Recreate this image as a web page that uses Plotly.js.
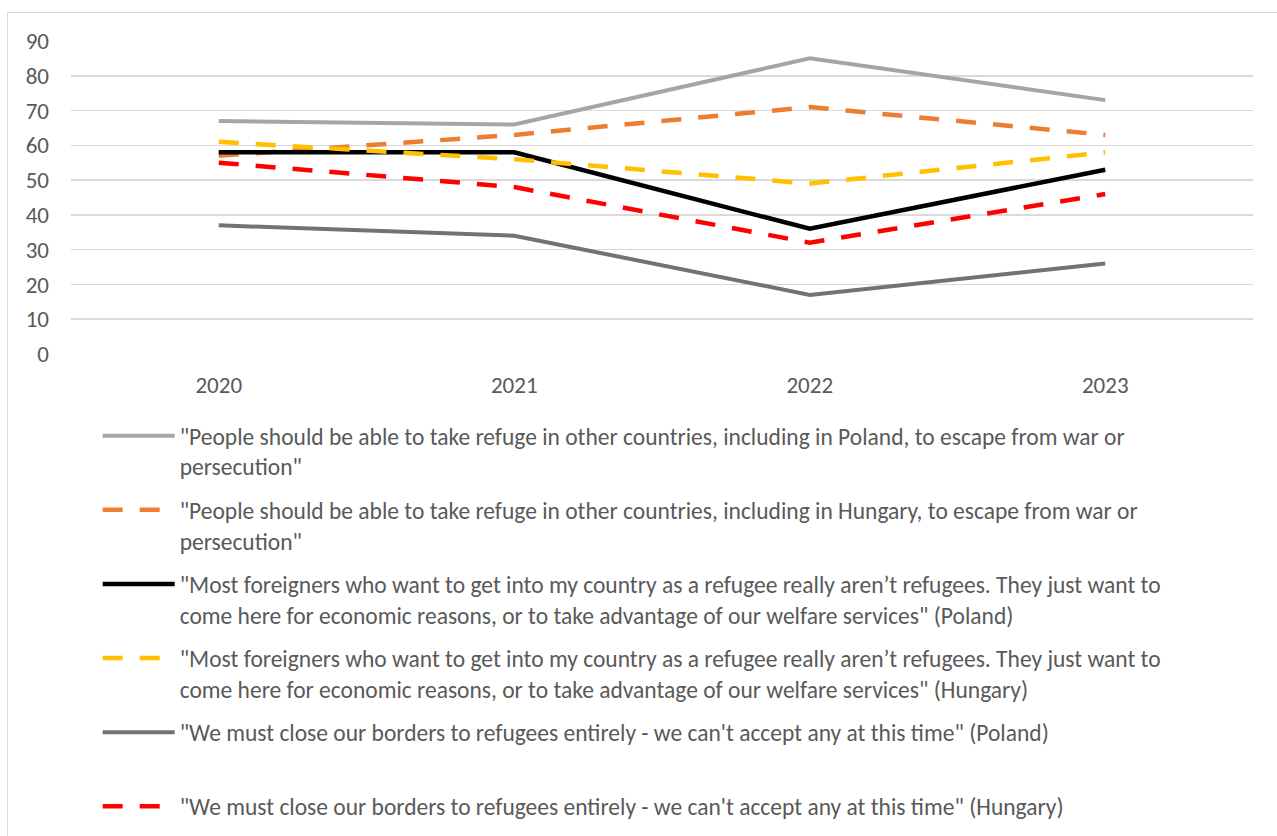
<!DOCTYPE html>
<html>
<head>
<meta charset="utf-8">
<script src="https://cdn.plot.ly/plotly-3.0.1.min.js"></script>
<style>
  html, body { margin: 0; padding: 0; background: #fff; }
  #chart { width: 1277px; height: 836px; }
  #frame { position: absolute; left: 7px; top: 12px; width: 1300px; height: 900px;
           border: 1px solid #d9d9d9; pointer-events: none; box-sizing: border-box; }
</style>
</head>
<body>
<div id="chart"></div>
<div id="frame"></div>
<script>
const years = ['2020', '2021', '2022', '2023'];

const refugePoland = [67, 66, 85, 73];
const refugeHungary = [57, 63, 71, 63];
const economicPoland = [58, 58, 36, 53];
const economicHungary = [61, 56, 49, 58];
const closePoland = [37, 34, 17, 26];
const closeHungary = [55, 48, 32, 46];

const seriesNames = [
  '"People should be able to take refuge in other countries, including in Poland, to escape from war or<br>persecution"',
  '"People should be able to take refuge in other countries, including in Hungary, to escape from war or<br>persecution"',
  '"Most foreigners who want to get into my country as a refugee really aren’t refugees. They just want to<br>come here for economic reasons, or to take advantage of our welfare services" (Poland)',
  '"Most foreigners who want to get into my country as a refugee really aren’t refugees. They just want to<br>come here for economic reasons, or to take advantage of our welfare services" (Hungary)',
  '"We must close our borders to refugees entirely - we can\'t accept any at this time" (Poland)<br> ',
  '"We must close our borders to refugees entirely - we can\'t accept any at this time" (Hungary)'
];

const yTicks = [0, 10, 20, 30, 40, 50, 60, 70, 80, 90];

const seriesValues = [refugePoland, refugeHungary, economicPoland, economicHungary, closePoland, closeHungary];
const seriesColors = ['#A5A5A5', '#ED7D31', '#000000', '#FFC000', '#767171', '#FF0000'];
const seriesDash = ['solid', '20px,17px', 'solid', '20px,17px', 'solid', '20px,17px'];
const seriesWidth = [4, 4.5, 4.5, 4.5, 4, 4.5];

const traces = seriesValues.map((vals, i) => ({
  type: 'scatter',
  mode: 'lines',
  x: years,
  y: vals,
  name: seriesNames[i],
  legendgroup: 'g' + i,
  line: { color: seriesColors[i], width: seriesWidth[i], dash: seriesDash[i] },
  hoverinfo: 'skip'
}));

const font = "Carlito, Calibri, 'Liberation Sans', Arial, sans-serif";

const layout = {
  width: 1277,
  height: 836,
  margin: { l: 70.5, r: 24, t: 40.7, b: 481.7, pad: 0, autoexpand: false },
  paper_bgcolor: '#ffffff',
  plot_bgcolor: '#ffffff',
  font: { family: font, size: 23, color: '#595959' },
  showlegend: true,
  hovermode: false,
  xaxis: {
    type: 'category',
    range: [-0.5, 3.5],
    showgrid: false,
    zeroline: false,
    showline: false,
    ticks: '',
    tickfont: { family: font, size: 23, color: '#595959' },
    ticklabelstandoff: 15,
    automargin: false
  },
  yaxis: {
    range: [0, 90],
    tickvals: yTicks,
    showgrid: true,
    gridcolor: '#d9d9d9',
    gridwidth: 1.5,
    zeroline: false,
    showline: false,
    ticks: '',
    tickfont: { family: font, size: 23, color: '#595959' },
    ticklabelstandoff: 21,
    automargin: false
  },
  legend: {
    xref: 'container',
    yref: 'container',
    x: 0.0765,
    xanchor: 'left',
    y: 0.5048,
    yanchor: 'top',
    orientation: 'v',
    valign: 'top',
    tracegroupgap: 10,
    itemwidth: 72,
    bgcolor: 'rgba(0,0,0,0)',
    font: { family: font, size: 23.5, color: '#595959' }
  }
};

Plotly.newPlot('chart', traces, layout, { displayModeBar: false, staticPlot: true });
</script>
</body>
</html>
